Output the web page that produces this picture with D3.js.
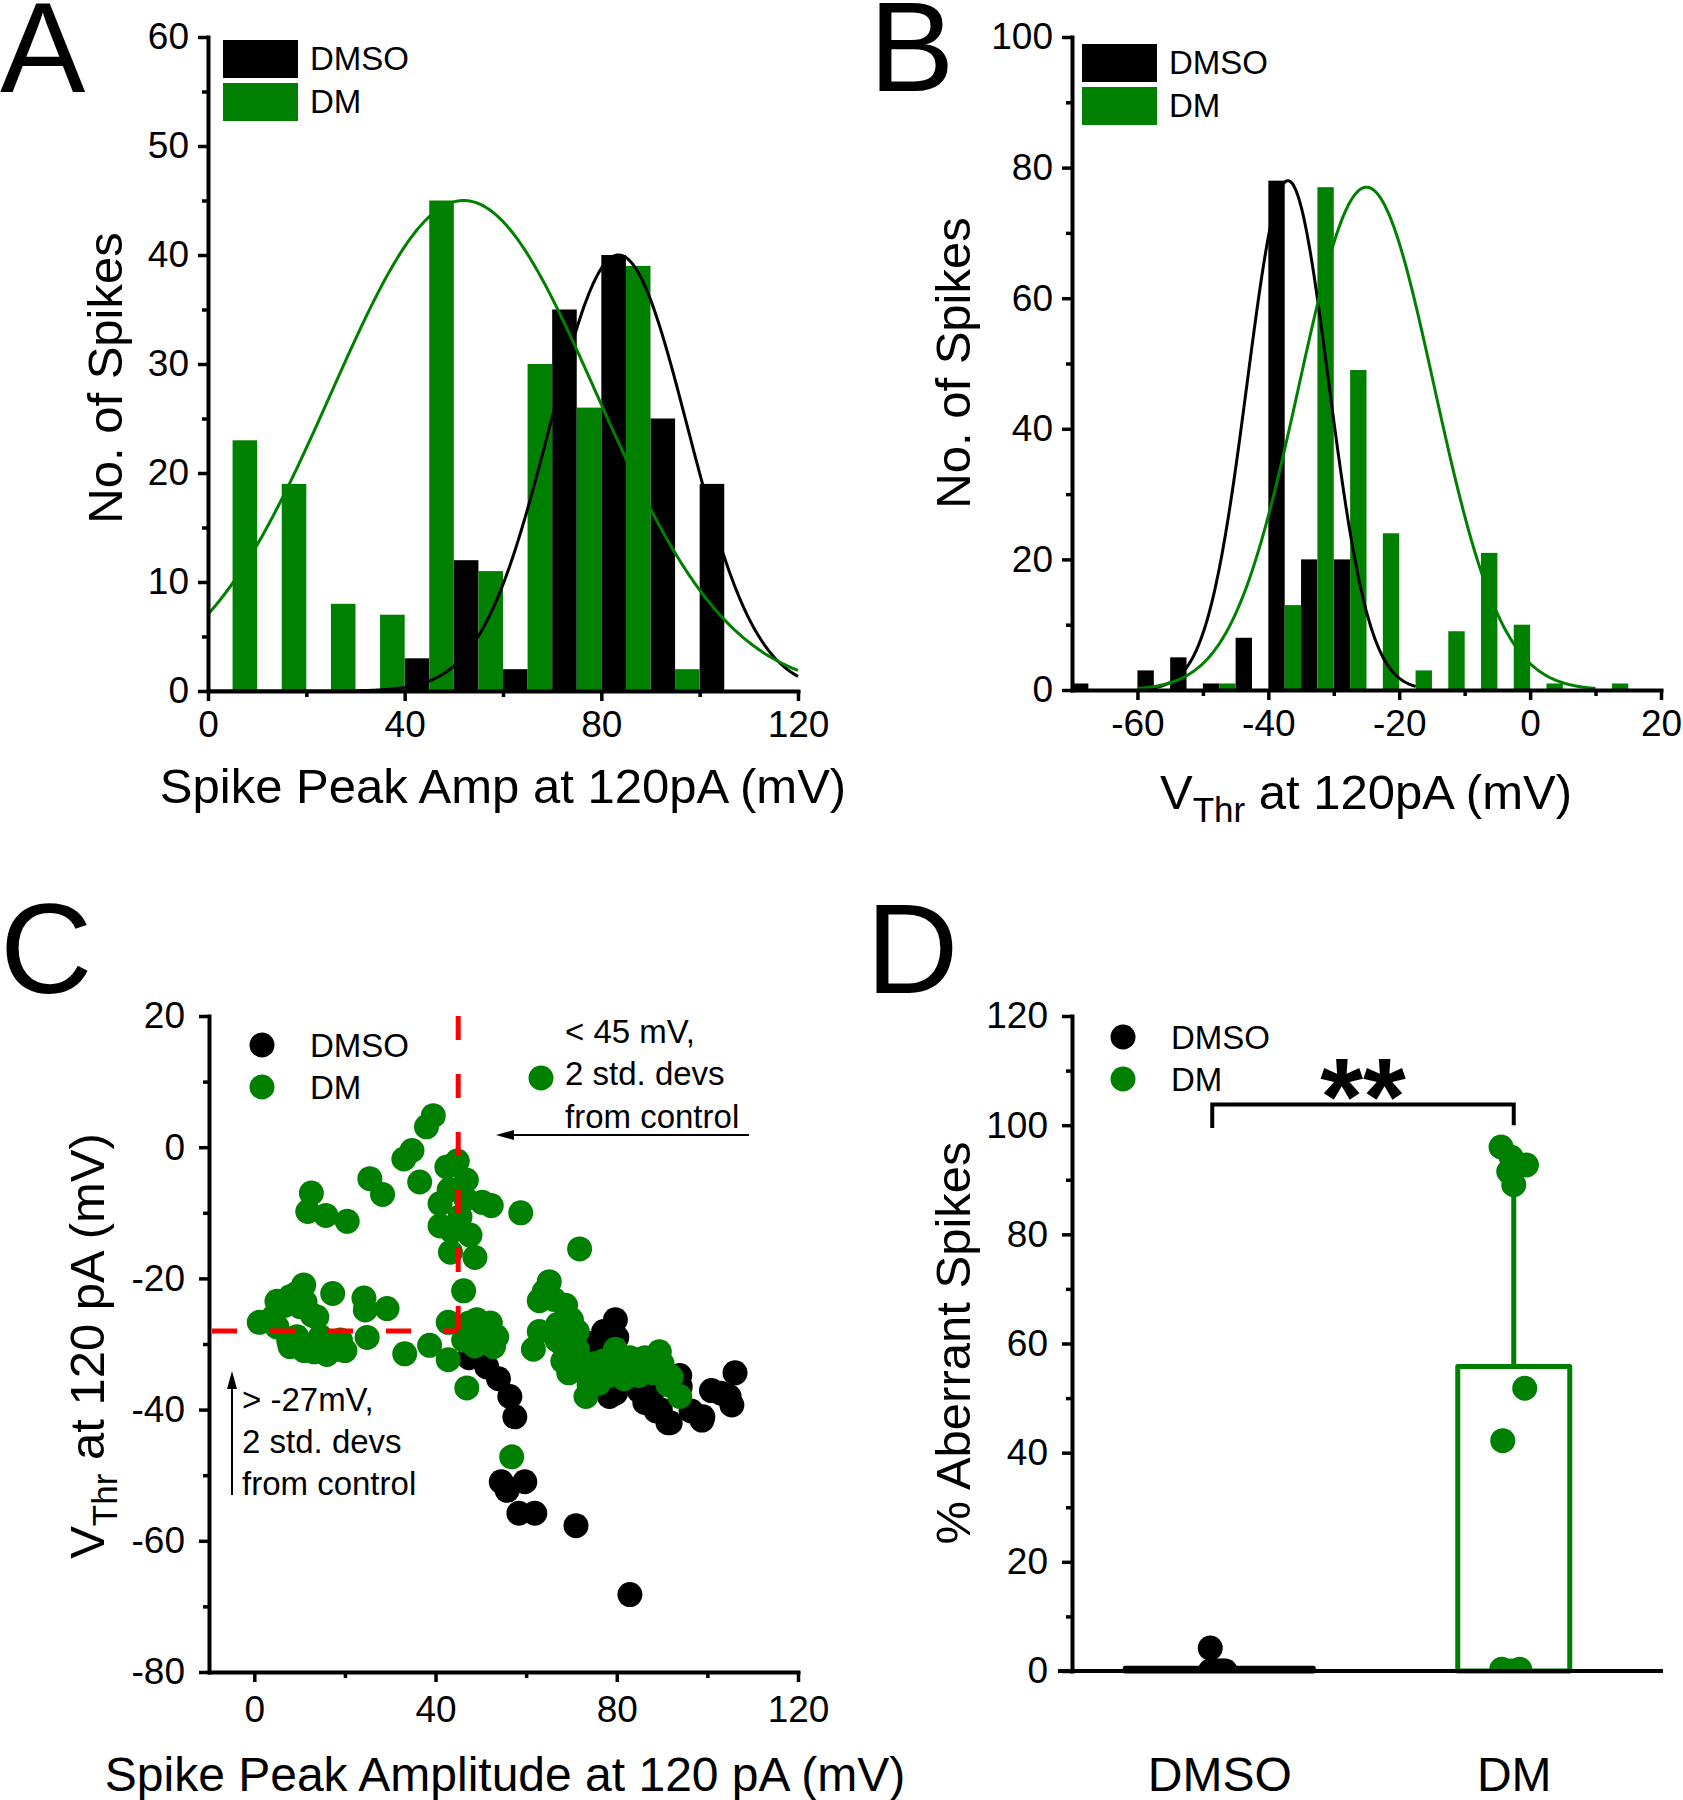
<!DOCTYPE html>
<html>
<head>
<meta charset="utf-8">
<script src="https://cdn.jsdelivr.net/npm/d3@7"></script>
<style>
html,body{margin:0;padding:0;background:#fff;}
svg{display:block;}
text{font-family:"Liberation Sans",Arial,Helvetica,sans-serif;fill:#000;}
</style>
</head>
<body>
<svg id="chart" width="1683" height="1800"></svg>
<script>
// ================= DATA =================
// Panel A : spike peak amplitude histogram (bin width 10 mV)
const ampBinStart  = [0,10,20,30,40,50,60,70,80,90,100,110];
const ampCountDMSO = [0,0,0,0,3,12,2,35,40,25,19,0];
const ampCountDM   = [23,19,8,7,45,11,30,26,39,2,0,0];
const ampGaussDMSO = [40, 83.5, 14];   // amplitude, mean, sd of fitted Gaussian
const ampGaussDM   = [45, 52, 27];
const ampFitRange  = [0, 120];
const ampXTicks = [0,40,80,120];
const ampYTicks = [0,10,20,30,40,50,60];

// Panel B : threshold histogram (bin width 5 mV)
const thrBinStart  = [-70,-65,-60,-55,-50,-45,-40,-35,-30,-25,-20,-15,-10,-5,0,5,10,15];
const thrCountDMSO = [1,0,3,5,1,8,78,20,20,0,0,0,0,0,0,0,0,0];
const thrCountDM   = [0,0,0,0,1,0,13,77,49,24,3,9,21,10,1,0,1,0];
const thrGaussDMSO = [78, -37, 6.2];
const thrGaussDM   = [77, -25, 10.3];
const thrFitRangeDMSO = [-60, -17.5];
const thrFitRangeDM   = [-60, 10];
const thrXTicks = [-60,-40,-20,0,20];
const thrYTicks = [0,20,40,60,80,100];

// Panel C : scatter (amplitude, threshold)
const scatterDMSO = [
 [47.4,-32.1],[49.0,-31.0],[51.3,-33.5],[53.9,-35.3],[56.4,-38.0],[57.5,-41.1],
 [54.5,-51.0],[55.8,-52.3],[59.7,-51.0],[58.4,-55.8],[61.9,-55.8],[71.0,-57.7],
 [82.9,-68.2],[79.7,-26.3],[77.1,-28.1],[80.0,-29.0],[76.0,-31.0],[74.5,-29.9],
 [72.0,-33.0],[75.0,-36.0],[78.4,-38.0],[79.7,-37.5],[81.0,-36.2],[83.0,-35.0],
 [84.9,-37.1],[86.2,-38.9],[86.6,-38.1],[88.0,-37.0],[88.7,-40.2],[89.6,-40.0],
 [91.3,-42.0],[91.8,-42.0],[93.9,-34.8],[94.0,-36.5],[96.4,-40.2],[98.8,-41.6],
 [99.0,-41.1],[100.9,-37.1],[103.0,-37.5],[104.8,-38.0],[105.4,-39.3],[106.1,-34.4],
 [68.0,-30.0],[70.0,-32.0]
];
const scatterDM = [
 [39.5,4.8],[38.0,3.1],[34.8,-0.5],[33.0,-1.8],[25.5,-4.8],[28.3,-7.2],[12.6,-7.0],
 [11.8,-9.8],[15.8,-10.4],[20.5,-11.3],[36.5,-5.3],[42.5,-3.0],[44.8,-2.1],[43.0,-6.5],
 [46.8,-5.0],[46.7,-7.9],[41.0,-8.6],[50.3,-8.4],[52.3,-8.9],[45.4,-10.6],[41.0,-12.0],
 [43.6,-12.8],[47.6,-13.4],[43.3,-16.0],[48.7,-16.8],[58.8,-10.0],[46.2,-21.9],[71.8,-15.5],
 [1.1,-26.7],[4.2,-25.9],[5.0,-23.5],[6.7,-24.1],[7.9,-22.8],[9.3,-22.3],[10.9,-21.0],
 [10.1,-24.3],[11.2,-23.6],[12.8,-25.6],[13.8,-25.9],[17.3,-22.3],[24.2,-23.0],[24.5,-24.8],
 [29.3,-24.6],[5.0,-27.4],[7.6,-29.5],[9.4,-28.9],[7.9,-30.4],[11.0,-31.0],[13.2,-31.2],
 [14.6,-28.9],[16.0,-31.6],[18.3,-30.8],[19.0,-29.4],[20.0,-31.0],[24.9,-29.0],[33.2,-31.5],
 [38.7,-30.2],
 [42.8,-26.7],[42.8,-32.4],[46.9,-36.7],[46.2,-29.4],[47.4,-26.8],[49.1,-26.3],[50.0,-28.5],
 [52.1,-26.8],[53.5,-28.9],[52.8,-30.4],[49.1,-29.9],[48.7,-30.3],[56.8,-47.2],
 [65.1,-20.5],[64.0,-22.0],[62.9,-23.4],[66.1,-23.2],[68.7,-24.1],[70.0,-26.3],[62.9,-28.1],
 [61.6,-30.8],[66.8,-29.4],[67.0,-27.0],[71.3,-28.1],[70.0,-30.0],[68.1,-32.6],[69.4,-34.4],
 [71.3,-30.8],[72.6,-33.5],[73.9,-36.2],[73.2,-38.0],[75.0,-33.0],[75.8,-35.3],[76.0,-36.0],
 [77.1,-32.6],[78.4,-34.8],[79.7,-30.8],[80.0,-33.0],[81.0,-33.5],[81.6,-35.3],[82.9,-32.1],
 [84.9,-34.8],[85.0,-33.0],[86.2,-32.1],[88.1,-34.4],[89.4,-31.2],[90.0,-33.0],[91.3,-36.2],
 [92.0,-35.0],[93.9,-38.0]
];
const cutAmp = 45, cutThr = -28;
const scXTicks = [0,40,80,120];
const scYTicks = [-80,-60,-40,-20,0,20];

// Panel D : % aberrant spikes
const groups  = ["DMSO","DM"];
const pctMean = [0.5, 55.8];
const pctSD   = [1.4, 38];
const pctDMSO = [4.2, 0, 0, 0, 0, 0];
const pctDM   = [96.0, 94.1, 92.7, 91.5, 89.1, 51.8, 42.2, 0.3, 0.3, 0];
const pctYTicks = [0,20,40,60,80,100,120];

// ================= DRAWING =================
const svg = d3.select("#chart");
const GREEN = "#008000";
const FONT = '"Liberation Sans", Arial, Helvetica, sans-serif';
const TICK_FS = 37, TITLE_FS = 49, LEG_FS = 33, LETTER_FS = 128;
const fmt = d => String(d);

function styleAxis(a){
  a.attr("font-family", FONT).attr("font-size", null);
  a.select(".domain").attr("stroke","#000").attr("stroke-width",4).attr("stroke-linecap","square");
  a.selectAll(".tick line").attr("stroke","#000").attr("stroke-width",3.5);
  a.selectAll(".tick text").attr("font-size",TICK_FS).attr("fill","#000").attr("font-family",FONT);
}
function yAxis(scale, x, majors, minors, pad){
  const a = svg.append("g").attr("transform",`translate(${x},0)`)
    .call(d3.axisLeft(scale).tickValues(majors).tickSize(10).tickSizeOuter(0).tickPadding(pad).tickFormat(fmt));
  styleAxis(a);
  const m = svg.append("g").attr("transform",`translate(${x},0)`)
    .call(d3.axisLeft(scale).tickValues(minors).tickSize(6).tickSizeOuter(0).tickFormat(""));
  m.select(".domain").remove();
  styleAxis(m);
}
function xAxis(scale, y, majors, minors, pad){
  const a = svg.append("g").attr("transform",`translate(0,${y})`)
    .call(d3.axisBottom(scale).tickValues(majors).tickSize(10).tickSizeOuter(0).tickPadding(pad).tickFormat(fmt));
  styleAxis(a);
  const m = svg.append("g").attr("transform",`translate(0,${y})`)
    .call(d3.axisBottom(scale).tickValues(minors).tickSize(6).tickSizeOuter(0).tickFormat(""));
  m.select(".domain").remove();
  styleAxis(m);
}
function gaussPts(p, range){
  return d3.range(0, 301).map(i => {
    const x = range[0] + (range[1]-range[0]) * i / 300;
    return [x, p[0]*Math.exp(-((x-p[1])**2)/(2*p[2]*p[2]))];
  });
}
function text(x, y, str, size, opts={}){
  const t = svg.append("text").attr("x",x).attr("y",y).attr("font-size",size).text(str);
  if(opts.anchor) t.attr("text-anchor",opts.anchor);
  if(opts.weight) t.attr("font-weight",opts.weight);
  return t;
}
function rotTitle(cx, cy, str, size){
  return svg.append("text").attr("transform",`translate(${cx},${cy}) rotate(-90)`)
    .attr("text-anchor","middle").attr("font-size",size).text(str);
}
function vthrTitle(t){
  t.append("tspan").text("V");
  t.append("tspan").text("Thr").attr("font-size",35).attr("dy",13);
  t.append("tspan").text(" at 120pA (mV)").attr("dy",-13);
}
function legendSwatch(x, y, color, label){
  svg.append("rect").attr("x",x).attr("y",y).attr("width",75).attr("height",38).attr("fill",color);
  text(x+87, y+30, label, LEG_FS);
}

// ---------- Panel A ----------
{
  const x = d3.scaleLinear().domain([0,120]).range([208,798]);
  const y = d3.scaleLinear().domain([0,60]).range([691,37]);
  const half = 5;
  svg.append("g").selectAll("rect").data(ampBinStart.map((b,i)=>({b,v:ampCountDMSO[i]})).filter(d=>d.v>0))
    .join("rect").attr("x",d=>x(d.b)).attr("width",d=>x(d.b+half)-x(d.b))
    .attr("y",d=>y(d.v)).attr("height",d=>y(0)-y(d.v)).attr("fill","#000");
  svg.append("g").selectAll("rect").data(ampBinStart.map((b,i)=>({b,v:ampCountDM[i]})).filter(d=>d.v>0))
    .join("rect").attr("x",d=>x(d.b+half)).attr("width",d=>x(d.b+2*half)-x(d.b+half))
    .attr("y",d=>y(d.v)).attr("height",d=>y(0)-y(d.v)).attr("fill",GREEN);
  const line = d3.line().x(d=>x(d[0])).y(d=>y(d[1]));
  svg.append("path").attr("d",line(gaussPts(ampGaussDMSO, ampFitRange))).attr("fill","none").attr("stroke","#000").attr("stroke-width",3);
  svg.append("path").attr("d",line(gaussPts(ampGaussDM, ampFitRange))).attr("fill","none").attr("stroke",GREEN).attr("stroke-width",3);
  yAxis(y, 208, ampYTicks, [5,15,25,35,45,55], 9);
  xAxis(x, 691, ampXTicks, [20,60,100], 10);
  legendSwatch(223, 40, "#000", "DMSO");
  legendSwatch(223, 83, GREEN, "DM");
  text(503, 803, "Spike Peak Amp at 120pA (mV)", TITLE_FS, {anchor:"middle"});
  rotTitle(122, 378, "No. of Spikes", TITLE_FS);
  text(0, 92, "A", LETTER_FS);
}

// ---------- Panel B ----------
{
  const x = d3.scaleLinear().domain([-70,20]).range([1072,1661]);
  const y = d3.scaleLinear().domain([0,100]).range([690,37]);
  const half = 2.5;
  svg.append("g").selectAll("rect").data(thrBinStart.map((b,i)=>({b,v:thrCountDMSO[i]})).filter(d=>d.v>0))
    .join("rect").attr("x",d=>x(d.b)).attr("width",d=>x(d.b+half)-x(d.b))
    .attr("y",d=>y(d.v)).attr("height",d=>y(0)-y(d.v)).attr("fill","#000");
  svg.append("g").selectAll("rect").data(thrBinStart.map((b,i)=>({b,v:thrCountDM[i]})).filter(d=>d.v>0))
    .join("rect").attr("x",d=>x(d.b+half)).attr("width",d=>x(d.b+2*half)-x(d.b+half))
    .attr("y",d=>y(d.v)).attr("height",d=>y(0)-y(d.v)).attr("fill",GREEN);
  const line = d3.line().x(d=>x(d[0])).y(d=>y(d[1]));
  svg.append("path").attr("d",line(gaussPts(thrGaussDMSO, thrFitRangeDMSO))).attr("fill","none").attr("stroke","#000").attr("stroke-width",3);
  svg.append("path").attr("d",line(gaussPts(thrGaussDM, thrFitRangeDM))).attr("fill","none").attr("stroke",GREEN).attr("stroke-width",3);
  yAxis(y, 1072, thrYTicks, [10,30,50,70,90], 9);
  xAxis(x, 690, thrXTicks, [-50,-30,-10,10], 10);
  legendSwatch(1082, 44, "#000", "DMSO");
  legendSwatch(1082, 87, GREEN, "DM");
  vthrTitle(svg.append("text").attr("x",1366).attr("y",809).attr("text-anchor","middle").attr("font-size",TITLE_FS));
  rotTitle(970, 363, "No. of Spikes", TITLE_FS);
  text(869, 91, "B", LETTER_FS);
}

// ---------- Panel C ----------
{
  const x = d3.scaleLinear().domain([-10,120]).range([209,798]);
  const y = d3.scaleLinear().domain([-80,20]).range([1672,1016]);
  const R = 12.5;
  svg.append("g").selectAll("circle").data(scatterDMSO).join("circle")
    .attr("cx",d=>x(d[0])).attr("cy",d=>y(d[1])).attr("r",R).attr("fill","#000");
  svg.append("g").selectAll("circle").data(scatterDM).join("circle")
    .attr("cx",d=>x(d[0])).attr("cy",d=>y(d[1])).attr("r",R).attr("fill",GREEN);
  // red threshold lines
  svg.append("line").attr("x1",x(cutAmp)).attr("x2",x(cutAmp)).attr("y1",y(20)).attr("y2",y(cutThr))
    .attr("stroke","#ff0000").attr("stroke-width",5).attr("stroke-dasharray","24,34");
  svg.append("line").attr("x1",x(-10)+3).attr("x2",x(cutAmp)).attr("y1",y(cutThr)).attr("y2",y(cutThr))
    .attr("stroke","#ff0000").attr("stroke-width",5).attr("stroke-dasharray","25,33");
  yAxis(y, 209, scYTicks, [-70,-50,-30,-10,10], 14);
  xAxis(x, 1672, scXTicks, [20,60,100], 14);
  // legend
  svg.append("circle").attr("cx",262).attr("cy",1045).attr("r",R).attr("fill","#000");
  svg.append("circle").attr("cx",262).attr("cy",1087).attr("r",R).attr("fill",GREEN);
  text(310, 1057, "DMSO", LEG_FS);
  text(310, 1099, "DM", LEG_FS);
  // annotations
  text(565, 1043, "< 45 mV,", LEG_FS);
  text(565, 1085, "2 std. devs", LEG_FS);
  text(565, 1128, "from control", LEG_FS);
  svg.append("circle").attr("cx",541).attr("cy",1078).attr("r",R).attr("fill",GREEN);
  svg.append("line").attr("x1",749).attr("x2",510).attr("y1",1135).attr("y2",1135).attr("stroke","#000").attr("stroke-width",2);
  svg.append("path").attr("d","M496,1135 L514,1130 L514,1140 Z").attr("fill","#000");
  text(242, 1411, "> -27mV,", LEG_FS);
  text(242, 1453, "2 std. devs", LEG_FS);
  text(242, 1495, "from control", LEG_FS);
  svg.append("line").attr("x1",232).attr("x2",232).attr("y1",1495).attr("y2",1385).attr("stroke","#000").attr("stroke-width",2);
  svg.append("path").attr("d","M232,1371 L227,1389 L237,1389 Z").attr("fill","#000");
  text(505, 1791, "Spike Peak Amplitude at 120 pA (mV)", 48, {anchor:"middle"});
  const t = svg.append("text").attr("transform","translate(104,1346) rotate(-90)").attr("text-anchor","middle").attr("font-size",TITLE_FS);
  t.append("tspan").text("V");
  t.append("tspan").text("Thr").attr("font-size",35).attr("dy",13);
  t.append("tspan").text(" at 120 pA (mV)").attr("dy",-13);
  text(0, 993, "C", LETTER_FS);
}

// ---------- Panel D ----------
{
  const x = d3.scalePoint().domain(groups).range([1072,1661]).padding(0.5);
  const y = d3.scaleLinear().domain([0,120]).range([1671,1016]);
  const barW = {DMSO:188, DM:112};
  const jitter = {DMSO:[-9,-9,3,-4,0,6], DM:[-12.7,-2.5,12.7,-5,0,11,-11,-12,6,-3]};
  svg.append("defs").append("clipPath").attr("id","clipD")
    .append("rect").attr("x",1000).attr("y",980).attr("width",683).attr("height",1671-980);
  const bars = groups.map((g,i)=>({g, m:pctMean[i], sd:pctSD[i]}));
  svg.append("g").selectAll("rect").data(bars).join("rect")
    .attr("x",d=>x(d.g)-barW[d.g]/2).attr("width",d=>barW[d.g])
    .attr("y",d=>y(d.m)).attr("height",d=>y(0)-y(d.m))
    .attr("fill","none").attr("stroke",(d,i)=>i===0?"#000":GREEN).attr("stroke-width",5).attr("stroke-linejoin","round");
  svg.append("g").selectAll("line").data(bars).join("line")
    .attr("x1",d=>x(d.g)).attr("x2",d=>x(d.g)).attr("y1",d=>y(d.m)).attr("y2",d=>y(d.m+d.sd))
    .attr("stroke",(d,i)=>i===0?"#000":GREEN).attr("stroke-width",5);
  const R = 12.5;
  const pts = svg.append("g").attr("clip-path","url(#clipD)");
  pts.append("g").selectAll("circle").data(pctDMSO).join("circle")
    .attr("cx",(d,i)=>x("DMSO")+jitter.DMSO[i]).attr("cy",d=>y(d)).attr("r",R).attr("fill","#000");
  pts.append("g").selectAll("circle").data(pctDM).join("circle")
    .attr("cx",(d,i)=>x("DM")+jitter.DM[i]).attr("cy",d=>y(d)).attr("r",R).attr("fill",GREEN);
  // significance bracket
  const bx1 = x("DMSO")-7, bx2 = x("DM");
  svg.append("path").attr("d",`M${bx1},${y(99.5)} V${y(103.8)} H${bx2} V${y(100)}`)
    .attr("fill","none").attr("stroke","#000").attr("stroke-width",4);
  text((bx1+bx2)/2, 1134, "**", 110, {anchor:"middle", weight:"bold"});
  yAxis(y, 1072, pctYTicks, [10,30,50,70,90,110], 14);
  const ax = svg.append("g").attr("transform",`translate(0,1671)`)
    .call(d3.axisBottom(x).tickSize(0).tickSizeOuter(0).tickPadding(86));
  styleAxis(ax);
  ax.select(".domain").attr("d","M1060,0H1661");
  ax.selectAll(".tick text").attr("font-size",48);
  // legend
  svg.append("circle").attr("cx",1123).attr("cy",1037).attr("r",R).attr("fill","#000");
  svg.append("circle").attr("cx",1123).attr("cy",1079).attr("r",R).attr("fill",GREEN);
  text(1171, 1049, "DMSO", LEG_FS);
  text(1171, 1091, "DM", LEG_FS);
  rotTitle(970, 1343, "% Aberrant Spikes", TITLE_FS);
  text(866, 993, "D", LETTER_FS);
}
</script>
</body>
</html>
